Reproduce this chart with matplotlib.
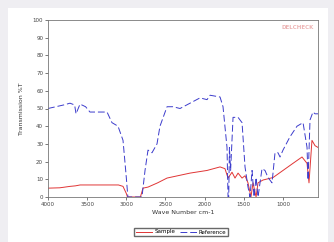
import matplotlib.pyplot as plt
from matplotlib.patches import Rectangle

# wave numbers (cm-1) and transmission (%T)
ref_wn = [4000, 3900, 3800, 3719, 3660, 3642, 3591, 3520, 3464, 3350, 3246, 3183,
          3106, 3042, 3000, 2980, 2800, 2787, 2761, 2723, 2672, 2608, 2570, 2480,
          2404, 2314, 2186, 2059, 1969, 1931, 1803, 1765, 1714, 1701, 1692, 1683,
          1668, 1637, 1573, 1522, 1484, 1446, 1420, 1394, 1369, 1343, 1318, 1267,
          1229, 1190, 1139, 1101, 1063, 1037, 999, 910, 820, 743, 692, 679, 654,
          616, 590, 552]
ref_t = [50, 51, 52, 53, 52, 47, 52.5, 51, 48, 48, 48, 42,
         40, 32, 11, 0, 0, 5, 15, 26.5, 25, 30, 40, 51,
         51, 50, 53, 56, 55, 57.5, 56.5, 51, 28, 0, 0, 28,
         15, 45, 45, 42, 17, 5.6, 0, 15, 0, 11, 0, 16,
         15, 11, 8, 25, 25, 22.6, 26.5, 34, 40, 42, 28, 9.6, 43.5,
         48, 47, 47]

sample_wn = [4000, 3850, 3800, 3720, 3650, 3590, 3400, 3200, 3100, 3042, 3000,
             2985, 2820, 2787, 2723, 2600, 2480, 2186, 1969, 1803, 1740, 1701,
             1650, 1612, 1573, 1522, 1484, 1446, 1408, 1382, 1343, 1318, 1254,
             1126, 999, 872, 756, 692, 667, 629, 590, 552]
sample_t = [5, 5.2, 5.5, 6, 6.3, 6.8, 6.8, 6.8, 6.8, 6, 2,
            0, 0, 5, 5.6, 8, 10.7, 13.5, 15, 17, 16, 10.7,
            14, 10.7, 13.5, 10.7, 12, 8, 0, 8, 0, 8, 9.6,
            11, 15, 19, 22.6, 19, 8, 32, 29, 28]

x_ticks = [4000, 3500, 3000, 2500, 2000, 1500, 1000]
y_ticks = list(range(0, 101, 10))

fig = plt.figure(figsize=(3.34, 2.42), dpi=100)
fig.patch.set_facecolor('#efeef2')
fig.patches.append(Rectangle((8 / 334, 0), 320 / 334, 234 / 242,
                             transform=fig.transFigure, facecolor='white',
                             edgecolor='none', zorder=-5))

ax = fig.add_axes([48 / 334, 45 / 242, 270 / 334, 177 / 242])
ax.set_zorder(2)
ax.plot(sample_wn, sample_t, color='#e03535', lw=0.7, label='Sample')
ax.plot(ref_wn, ref_t, color='#3c3ccc', lw=0.7, dashes=(7, 3), label='Reference')

ax.set_xlim(4000, 552)
ax.set_ylim(0, 100)
ax.set_xticks(x_ticks)
ax.set_yticks(y_ticks)
ax.tick_params(labelsize=4, length=2, width=0.5, colors='#444444', pad=1.5)
for s in ax.spines.values():
    s.set_linewidth(0.6)
    s.set_color('#777777')

ax.set_xlabel('Wave Number cm-1', fontsize=4.5, labelpad=2, color='#333333')
ax.set_ylabel('Transmission %T', fontsize=4.5, labelpad=6, color='#333333')

# watermark
ax.text(0.985, 0.955, 'DELCHECK', transform=ax.transAxes, ha='right', va='center',
        fontsize=4, color='#e8a0a0', alpha=0.8, fontweight='bold')

fig.legend(loc='center', bbox_to_anchor=(181 / 334, 10 / 242), ncol=2,
           fontsize=4, frameon=True, fancybox=False, edgecolor='#444444',
           handlelength=3, borderpad=0.3, columnspacing=0.8, handletextpad=0.4)

fig.savefig('out.png', dpi=100)
